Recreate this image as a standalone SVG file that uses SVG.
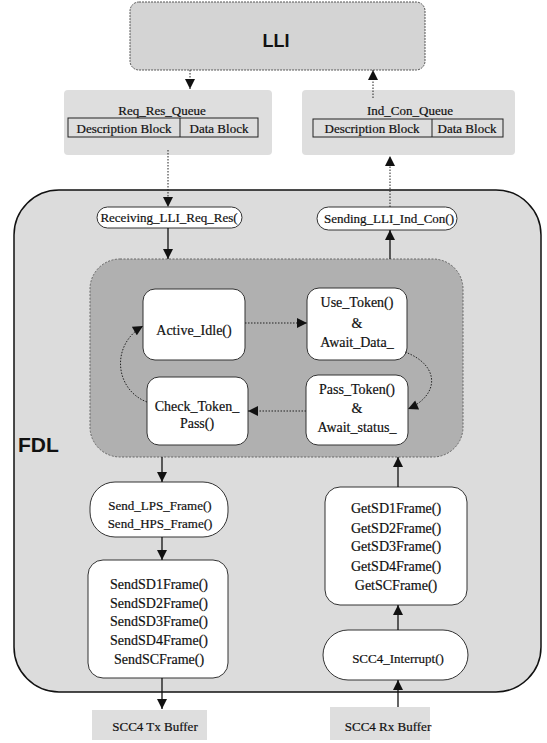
<svg xmlns="http://www.w3.org/2000/svg" width="547" height="743" viewBox="0 0 547 743">
<style>
  .t { font-family: "Liberation Serif", "Times New Roman", serif; font-size: 14px; fill: #111; text-anchor: middle; stroke: #111; stroke-width: 0.2; }
  .s { font-size: 13px; }
  .box { fill: #fff; stroke: #333; stroke-width: 1; }
  .shade { fill: #dedede; }
  .sans { font-family: "Liberation Sans", Arial, sans-serif; font-weight: bold; fill: #111; }
  .solid { stroke: #111; stroke-width: 1.3; fill: none; marker-end: url(#ah); }
  .dot { stroke: #222; stroke-width: 1; stroke-dasharray: 1.5 1.5; fill: none; marker-end: url(#ah); }
</style>
<defs>
  <marker id="ah" viewBox="0 0 10 10" refX="10" refY="5" markerWidth="11" markerHeight="10" markerUnits="userSpaceOnUse" orient="auto">
    <path d="M0,0 L10,5 L0,10 z" fill="#111"/>
  </marker>
</defs>
<rect width="547" height="743" fill="#fff"/>

<g id="LLI">
  <rect x="130" y="2" width="295" height="68" rx="9" fill="#d4d4d4" stroke="#555" stroke-width="1" stroke-dasharray="2 1"/>
  <text x="276" y="47" class="sans" font-size="18" text-anchor="middle">LLI</text>
</g>

<g id="Req_Res_Queue">
  <rect x="64" y="90" width="208" height="65" rx="4" class="shade"/>
  <text x="162" y="115" class="t s">Req_Res_Queue</text>
  <rect x="68" y="118" width="190" height="19" fill="none" stroke="#222" stroke-width="1"/>
  <line x1="180" y1="118" x2="180" y2="137" stroke="#222" stroke-width="1"/>
  <text x="124" y="133" class="t s">Description Block</text>
  <text x="219" y="133" class="t s">Data Block</text>
</g>

<g id="Ind_Con_Queue">
  <rect x="302" y="90" width="213" height="65" rx="4" class="shade"/>
  <text x="410" y="115" class="t s">Ind_Con_Queue</text>
  <rect x="313" y="119" width="190" height="18" fill="none" stroke="#222" stroke-width="1"/>
  <line x1="432" y1="119" x2="432" y2="137" stroke="#222" stroke-width="1"/>
  <text x="372" y="133" class="t s">Description Block</text>
  <text x="467" y="133" class="t s">Data Block</text>
</g>

<g id="FDL">
  <rect x="14" y="190" width="527" height="502" rx="45" fill="#dcdcdc" stroke="#111" stroke-width="1.5"/>
  <text x="18" y="452" class="sans" font-size="21">FDL</text>
</g>

<g id="StateRegion">
  <rect x="90" y="259" width="373" height="198" rx="30" fill="#b0b0b0" stroke="#666" stroke-width="1" stroke-dasharray="2 1.5"/>
</g>

<g id="Receiving_LLI_Req_Res">
  <rect x="97" y="207" width="145" height="21" rx="10.5" class="box"/>
  <text x="169" y="222" class="t s">Receiving_LLI_Req_Res(</text>
</g>

<g id="Sending_LLI_Ind_Con">
  <rect x="317" y="207" width="140" height="23" rx="11.5" class="box"/>
  <text x="389" y="223" class="t s">Sending_LLI_Ind_Con()</text>
</g>

<g id="Active_Idle">
  <rect x="143" y="289" width="102" height="71" rx="12" class="box"/>
  <text x="194" y="335" class="t">Active_Idle()</text>
</g>

<g id="Use_Token">
  <rect x="307" y="288" width="100" height="72" rx="12" class="box"/>
  <text x="357" y="307" class="t">Use_Token()</text>
  <text x="357" y="328" class="t">&amp;</text>
  <text x="357" y="347" class="t">Await_Data_</text>
</g>

<g id="Check_Token_Pass">
  <rect x="147" y="377" width="101" height="68" rx="12" class="box"/>
  <text x="197" y="411" class="t">Check_Token_</text>
  <text x="197" y="428" class="t">Pass()</text>
</g>

<g id="Pass_Token">
  <rect x="306" y="375" width="102" height="70" rx="12" class="box"/>
  <text x="357" y="394" class="t">Pass_Token()</text>
  <text x="357" y="413" class="t">&amp;</text>
  <text x="357" y="432" class="t">Await_status_</text>
</g>

<g id="Send_LPS_HPS">
  <rect x="90" y="482" width="138" height="55" rx="25" class="box"/>
  <text x="160" y="510" class="t s">Send_LPS_Frame()</text>
  <text x="160" y="528" class="t s">Send_HPS_Frame()</text>
</g>

<g id="SendFrames">
  <rect x="88" y="560" width="140" height="118" rx="15" class="box"/>
  <text x="159" y="589" class="t">SendSD1Frame()</text>
  <text x="159" y="608" class="t">SendSD2Frame()</text>
  <text x="159" y="626" class="t">SendSD3Frame()</text>
  <text x="159" y="645" class="t">SendSD4Frame()</text>
  <text x="159" y="664" class="t">SendSCFrame()</text>
</g>

<g id="GetFrames">
  <rect x="325" y="487" width="142" height="118" rx="15" class="box"/>
  <text x="396" y="513" class="t">GetSD1Frame()</text>
  <text x="396" y="533" class="t">GetSD2Frame()</text>
  <text x="396" y="551" class="t">GetSD3Frame()</text>
  <text x="396" y="571" class="t">GetSD4Frame()</text>
  <text x="396" y="590" class="t">GetSCFrame()</text>
</g>

<g id="SCC4_Interrupt">
  <rect x="323" y="630" width="145" height="50" rx="25" class="box"/>
  <text x="398" y="663" class="t s">SCC4_Interrupt()</text>
</g>

<g id="SCC4_Tx_Buffer">
  <rect x="92" y="710" width="115" height="30" class="shade"/>
  <text x="155" y="731" class="t s">SCC4 Tx Buffer</text>
</g>

<g id="SCC4_Rx_Buffer">
  <rect x="330" y="707" width="100" height="33" class="shade"/>
  <text x="388" y="731" class="t s">SCC4 Rx Buffer</text>
</g>

<g id="connectors">
  <line x1="190" y1="70" x2="190" y2="89" class="dot"/>
  <line x1="373" y1="98" x2="373" y2="70" class="dot"/>
  <line x1="168" y1="150" x2="168" y2="207" class="dot"/>
  <line x1="390" y1="207" x2="390" y2="156" class="dot"/>
  <line x1="168" y1="228" x2="168" y2="259" class="solid"/>
  <line x1="390" y1="259" x2="390" y2="230" class="solid"/>
  <line x1="245" y1="323" x2="307" y2="323" class="dot"/>
  <path d="M405,352 C440,365 440,395 408,409" class="dot"/>
  <line x1="306" y1="411" x2="248" y2="411" class="dot"/>
  <path d="M147,402 C115,390 110,345 143,326" class="dot"/>
  <line x1="162" y1="457" x2="162" y2="482" class="solid"/>
  <line x1="162" y1="537" x2="162" y2="560" class="solid"/>
  <line x1="162" y1="678" x2="162" y2="709" class="solid"/>
  <line x1="398" y1="487" x2="398" y2="457" class="solid"/>
  <line x1="398" y1="630" x2="398" y2="605" class="solid"/>
  <line x1="398" y1="707" x2="398" y2="680" class="solid"/>
</g>
</svg>
